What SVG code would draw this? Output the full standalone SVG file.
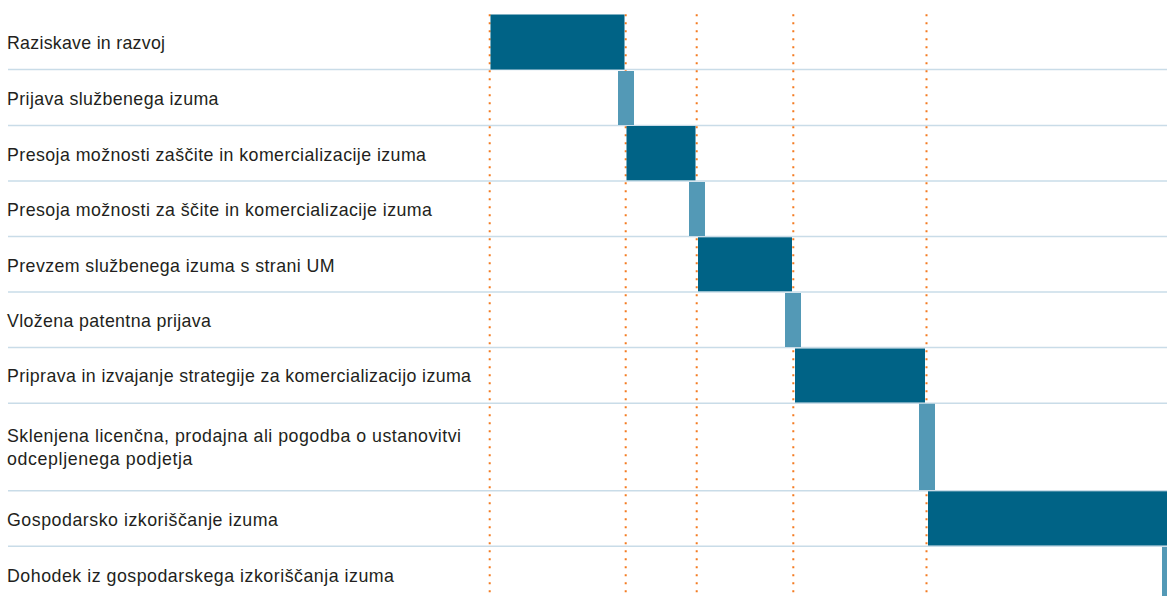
<svg xmlns="http://www.w3.org/2000/svg" width="1167" height="596" viewBox="0 0 1167 596">
  <style>
    .lbl { font-family: "Liberation Sans", Arial, Helvetica, sans-serif; font-size: 17.8px; fill: #231f20; }
    .sep { stroke: #c9dce8; stroke-width: 1.5; fill: none; }
    .guide { stroke: #f47b20; stroke-width: 2; stroke-dasharray: 2 6; fill: none; }
    .dark { fill: #006386; }
    .light { fill: #5399b6; }
  </style>
  <rect x="0" y="0" width="1167" height="596" fill="#ffffff"/>
  <g id="separators">
    <line class="sep" x1="8" y1="69.5" x2="1167" y2="69.5"/>
    <line class="sep" x1="8" y1="125.5" x2="1167" y2="125.5"/>
    <line class="sep" x1="8" y1="181" x2="1167" y2="181"/>
    <line class="sep" x1="8" y1="236.5" x2="1167" y2="236.5"/>
    <line class="sep" x1="8" y1="292" x2="1167" y2="292"/>
    <line class="sep" x1="8" y1="347.5" x2="1167" y2="347.5"/>
    <line class="sep" x1="8" y1="403.2" x2="1167" y2="403.2"/>
    <line class="sep" x1="8" y1="490.7" x2="1167" y2="490.7"/>
    <line class="sep" x1="8" y1="546.3" x2="1167" y2="546.3"/>
  </g>
  <g id="connectors">
    <line class="guide" x1="489.7" y1="14.3" x2="489.7" y2="596"/>
    <line class="guide" x1="625.7" y1="14.3" x2="625.7" y2="596"/>
    <line class="guide" x1="696.7" y1="14.3" x2="696.7" y2="596"/>
    <line class="guide" x1="793.3" y1="14.3" x2="793.3" y2="596"/>
    <line class="guide" x1="926.5" y1="14.3" x2="926.5" y2="596"/>
  </g>
  <g id="row1">
    <text class="lbl" x="7" y="49.3" textLength="158" lengthAdjust="spacing">Raziskave in razvoj</text>
    <rect class="dark" x="490.5" y="14.5" width="134" height="55"/>
  </g>
  <g id="row2">
    <text class="lbl" x="7" y="104.8" textLength="211.5" lengthAdjust="spacing">Prijava službenega izuma</text>
    <rect class="light" x="618" y="71" width="16" height="54"/>
  </g>
  <g id="row3">
    <text class="lbl" x="7" y="160.5" textLength="419" lengthAdjust="spacing">Presoja možnosti zaščite in komercializacije izuma</text>
    <rect class="dark" x="626.5" y="126" width="69" height="54.3"/>
  </g>
  <g id="row4">
    <text class="lbl" x="7" y="216" textLength="425" lengthAdjust="spacing">Presoja možnosti za ščite in komercializacije izuma</text>
    <rect class="light" x="689" y="182" width="16" height="54"/>
  </g>
  <g id="row5">
    <text class="lbl" x="7" y="271.5" textLength="327.5" lengthAdjust="spacing">Prevzem službenega izuma s strani UM</text>
    <rect class="dark" x="698" y="237.3" width="94" height="54"/>
  </g>
  <g id="row6">
    <text class="lbl" x="7" y="327.2" textLength="204" lengthAdjust="spacing">Vložena patentna prijava</text>
    <rect class="light" x="785" y="293" width="16" height="54"/>
  </g>
  <g id="row7">
    <text class="lbl" x="7" y="382" textLength="464" lengthAdjust="spacing">Priprava in izvajanje strategije za komercializacijo izuma</text>
    <rect class="dark" x="795" y="348.5" width="130" height="54"/>
  </g>
  <g id="row8">
    <text class="lbl" x="7" y="442" textLength="454" lengthAdjust="spacing">Sklenjena licenčna, prodajna ali pogodba o ustanovitvi</text>
    <text class="lbl" x="7" y="464.5" textLength="185.5" lengthAdjust="spacing">odcepljenega podjetja</text>
    <rect class="light" x="919" y="403.8" width="16" height="86.2"/>
  </g>
  <g id="row9">
    <text class="lbl" x="7" y="525.8" textLength="271" lengthAdjust="spacing">Gospodarsko izkoriščanje izuma</text>
    <rect class="dark" x="928" y="491.3" width="239" height="54.2"/>
  </g>
  <g id="row10">
    <text class="lbl" x="7" y="581.5" textLength="387" lengthAdjust="spacing">Dohodek iz gospodarskega izkoriščanja izuma</text>
    <rect class="light" x="1162" y="547" width="5" height="49"/>
  </g>
</svg>
